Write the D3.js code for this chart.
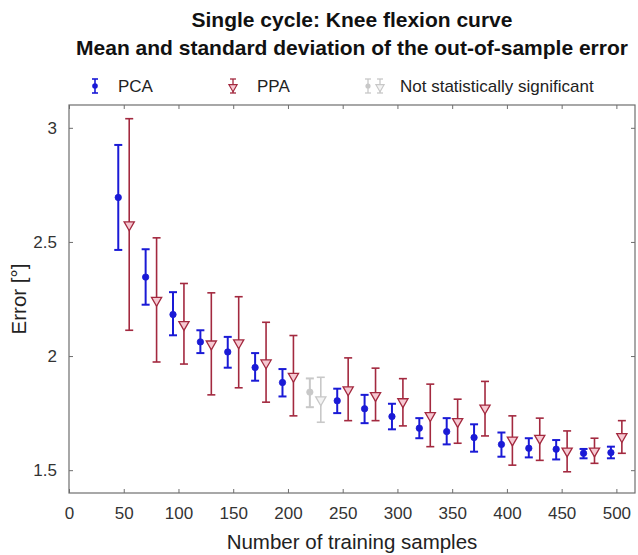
<!DOCTYPE html>
<html>
<head>
<meta charset="utf-8">
<script src="https://cdn.jsdelivr.net/npm/d3@7"></script>
<style>
  body { margin: 0; background: #fff; }
  svg text { font-family: "Liberation Sans", Arial, sans-serif; }
</style>
</head>
<body>
<svg></svg>
<script>
const width = 638;
const height = 555;

// training sample counts (PCA drawn at n-5, PPA at n+5)
const nSamples = [50, 75, 100, 125, 150, 175, 200, 225, 250, 275, 300, 325, 350, 375, 400, 425, 450, 475, 500];

const pcaMean = [2.695, 2.346, 2.182, 2.062, 2.018, 1.950, 1.884, 1.842, 1.804, 1.769, 1.735, 1.684, 1.669, 1.643, 1.613, 1.596, 1.592, 1.574, 1.577];
const pcaLow  = [2.465, 2.225, 2.091, 2.013, 1.949, 1.892, 1.823, 1.776, 1.750, 1.706, 1.679, 1.640, 1.613, 1.581, 1.559, 1.556, 1.547, 1.552, 1.552];
const pcaHigh = [2.925, 2.468, 2.280, 2.113, 2.084, 2.013, 1.943, 1.902, 1.857, 1.830, 1.791, 1.728, 1.728, 1.701, 1.665, 1.640, 1.632, 1.593, 1.603];

const ppaMean = [2.575, 2.244, 2.138, 2.053, 2.058, 1.970, 1.911, 1.808, 1.852, 1.827, 1.800, 1.739, 1.713, 1.772, 1.632, 1.640, 1.584, 1.584, 1.647];
const ppaLow  = [2.113, 1.974, 1.965, 1.830, 1.861, 1.798, 1.738, 1.710, 1.717, 1.717, 1.694, 1.603, 1.618, 1.650, 1.522, 1.543, 1.493, 1.530, 1.574];
const ppaHigh = [3.040, 2.518, 2.318, 2.277, 2.260, 2.148, 2.090, 1.907, 1.992, 1.947, 1.901, 1.877, 1.811, 1.889, 1.738, 1.728, 1.672, 1.640, 1.717];

const significant = nSamples.map(n => n !== 225);

const xTicks = [0, 50, 100, 150, 200, 250, 300, 350, 400, 450, 500];
const yTicks = [1.5, 2, 2.5, 3];

const colPCA = "#1a1ad6";
const colPPA = "#a3293f";
const colGrey = "#c8c8c8";

const margin = {top: 105, right: 3, bottom: 62, left: 69};
const innerW = width - margin.left - margin.right;
const innerH = height - margin.top - margin.bottom;

const svg = d3.select("svg")
    .attr("width", width)
    .attr("height", height);

const x = d3.scaleLinear().domain([0, 517]).range([0, innerW]);
const y = d3.scaleLinear().domain([1.4, 3.1]).range([innerH, 0]);

const g = svg.append("g")
    .attr("transform", `translate(${margin.left},${margin.top})`);

// titles
svg.append("text")
    .attr("x", margin.left + innerW / 2).attr("y", 27)
    .attr("text-anchor", "middle")
    .attr("font-size", 21).attr("font-weight", "bold").attr("fill", "#111")
    .text("Single cycle: Knee flexion curve");
svg.append("text")
    .attr("x", margin.left + innerW / 2).attr("y", 55)
    .attr("text-anchor", "middle")
    .attr("font-size", 21).attr("font-weight", "bold").attr("fill", "#111")
    .text("Mean and standard deviation of the out-of-sample error");

// axes (MATLAB style box with inner ticks)
const axisColor = "#6e6e6e";
function styleAxis(sel, showLabels) {
    sel.select(".domain").remove();
    sel.selectAll(".tick line").attr("stroke", axisColor);
    sel.selectAll(".tick text")
        .attr("fill", "#333")
        .attr("font-size", 17)
        .style("display", showLabels ? null : "none");
}

g.append("g")
    .attr("transform", `translate(0,${innerH})`)
    .call(d3.axisBottom(x).tickValues(xTicks).tickSize(-4).tickPadding(14).tickFormat(d3.format("d")))
    .call(s => styleAxis(s, true));
g.append("g")
    .call(d3.axisTop(x).tickValues(xTicks).tickSize(-4))
    .call(s => styleAxis(s, false));
g.append("g")
    .call(d3.axisLeft(y).tickValues(yTicks).tickSize(-4).tickPadding(12).tickFormat(d3.format("")))
    .call(s => styleAxis(s, true));
g.append("g")
    .attr("transform", `translate(${innerW},0)`)
    .call(d3.axisRight(y).tickValues(yTicks).tickSize(-4))
    .call(s => styleAxis(s, false));

g.append("rect")
    .attr("width", innerW).attr("height", innerH)
    .attr("fill", "none").attr("stroke", axisColor).attr("stroke-width", 1.2);

// axis labels
svg.append("text")
    .attr("x", margin.left + innerW / 2).attr("y", 549)
    .attr("text-anchor", "middle")
    .attr("font-size", 20.5).attr("fill", "#222")
    .text("Number of training samples");
svg.append("text")
    .attr("transform", `translate(26,${margin.top + innerH / 2}) rotate(-90)`)
    .attr("text-anchor", "middle")
    .attr("font-size", 20.5).attr("fill", "#222")
    .text("Error [°]");

// series data
const pca = nSamples.map((n, i) => ({x: n - 5, m: pcaMean[i], lo: pcaLow[i], hi: pcaHigh[i], sig: significant[i]}));
const ppa = nSamples.map((n, i) => ({x: n + 5, m: ppaMean[i], lo: ppaLow[i], hi: ppaHigh[i], sig: significant[i]}));

const capW = 4;
const tri = d3.symbol().type(d3.symbolTriangle).size(45);

function drawBars(data, color, width) {
    const bar = g.append("g").selectAll("g")
        .data(data)
        .enter().append("g")
        .attr("stroke", d => d.sig ? color : colGrey)
        .attr("stroke-width", width);
    bar.append("line")
        .attr("x1", d => x(d.x)).attr("x2", d => x(d.x))
        .attr("y1", d => y(d.lo)).attr("y2", d => y(d.hi));
    bar.append("line")
        .attr("x1", d => x(d.x) - capW).attr("x2", d => x(d.x) + capW)
        .attr("y1", d => y(d.hi)).attr("y2", d => y(d.hi));
    bar.append("line")
        .attr("x1", d => x(d.x) - capW).attr("x2", d => x(d.x) + capW)
        .attr("y1", d => y(d.lo)).attr("y2", d => y(d.lo));
    return bar;
}

const pcaBars = drawBars(pca, colPCA, 2);
pcaBars.append("circle")
    .attr("cx", d => x(d.x)).attr("cy", d => y(d.m))
    .attr("r", 3.2)
    .attr("fill", d => d.sig ? colPCA : colGrey)
    .attr("stroke-width", 0.8);

const ppaBars = drawBars(ppa, colPPA, 1.6);
ppaBars.append("path")
    .attr("d", tri)
    .attr("transform", d => `translate(${x(d.x)},${y(d.m)}) rotate(180)`)
    .attr("fill", d => d.sig ? "#f6c9d2" : "#f4f4f4")
    .attr("stroke-width", 1.3);

// legend
const legendY = 86;
const legend = svg.append("g");
function legendBar(cx, color, w) {
    legend.append("line").attr("x1", cx).attr("x2", cx).attr("y1", legendY - 7).attr("y2", legendY + 7)
        .attr("stroke", color).attr("stroke-width", w);
    legend.append("line").attr("x1", cx - 3).attr("x2", cx + 3).attr("y1", legendY - 7).attr("y2", legendY - 7)
        .attr("stroke", color).attr("stroke-width", w);
    legend.append("line").attr("x1", cx - 3).attr("x2", cx + 3).attr("y1", legendY + 7).attr("y2", legendY + 7)
        .attr("stroke", color).attr("stroke-width", w);
}
legendBar(95, colPCA, 1.6);
legend.append("circle").attr("cx", 95).attr("cy", legendY).attr("r", 2.8).attr("fill", colPCA);
legendBar(233, colPPA, 1.3);
legend.append("path").attr("d", d3.symbol().type(d3.symbolTriangle).size(30))
    .attr("transform", `translate(233,${legendY + 1}) rotate(180)`)
    .attr("fill", "#f6c9d2").attr("stroke", colPPA).attr("stroke-width", 1.1);
legendBar(368, colGrey, 1.3);
legend.append("circle").attr("cx", 368).attr("cy", legendY).attr("r", 2.6).attr("fill", colGrey);
legendBar(380, colGrey, 1.3);
legend.append("path").attr("d", d3.symbol().type(d3.symbolTriangle).size(30))
    .attr("transform", `translate(380,${legendY + 1}) rotate(180)`)
    .attr("fill", "#f4f4f4").attr("stroke", colGrey).attr("stroke-width", 1.1);

const legendText = [
    {x: 118, t: "PCA"},
    {x: 257, t: "PPA"},
    {x: 400, t: "Not statistically significant"}
];
legend.selectAll("text.lt")
    .data(legendText)
    .enter().append("text")
    .attr("class", "lt")
    .attr("x", d => d.x).attr("y", legendY + 6)
    .attr("font-size", 17).attr("fill", "#222")
    .text(d => d.t);
</script>
</body>
</html>
